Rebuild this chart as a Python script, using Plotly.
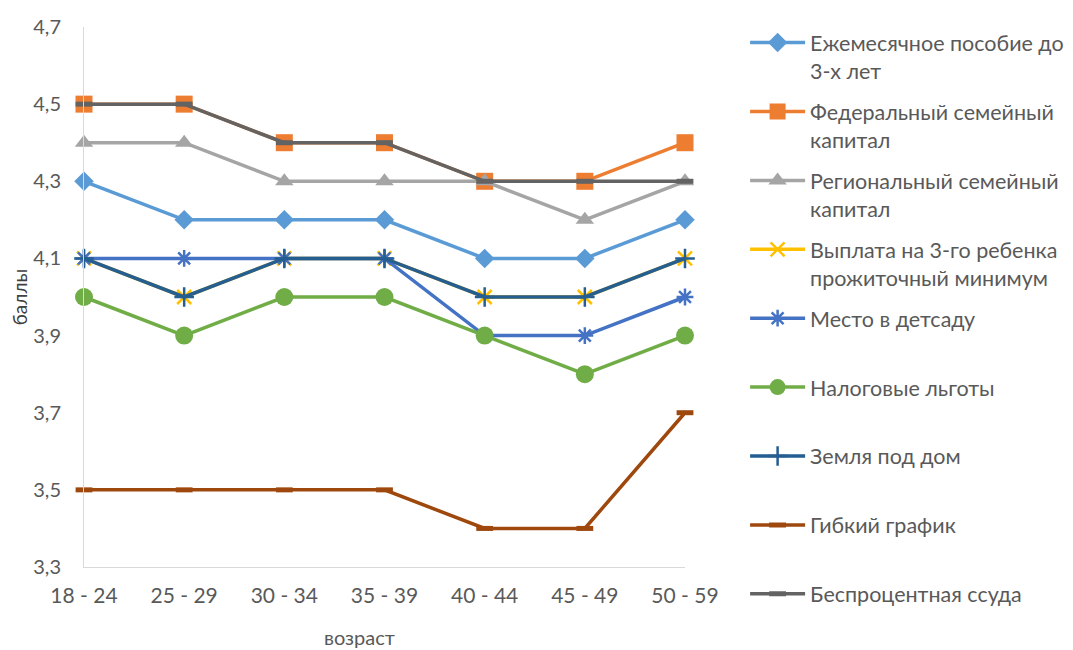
import plotly.graph_objects as go

ages = ["18 - 24", "25 - 29", "30 - 34", "35 - 39", "40 - 44", "45 - 49", "50 - 59"]

monthly_allowance = [4.3, 4.2, 4.2, 4.2, 4.1, 4.1, 4.2]
federal_capital = [4.5, 4.5, 4.4, 4.4, 4.3, 4.3, 4.4]
regional_capital = [4.4, 4.4, 4.3, 4.3, 4.3, 4.2, 4.3]
third_child_payment = [4.1, 4.0, 4.1, 4.1, 4.0, 4.0, 4.1]
kindergarten = [4.1, 4.1, 4.1, 4.1, 3.9, 3.9, 4.0]
tax_benefits = [4.0, 3.9, 4.0, 4.0, 3.9, 3.8, 3.9]
land = [4.1, 4.0, 4.1, 4.1, 4.0, 4.0, 4.1]
flexible = [3.5, 3.5, 3.5, 3.5, 3.4, 3.4, 3.7]
interest_free = [4.5, 4.5, 4.4, 4.4, 4.3, 4.3, 4.3]

series_names = [
    "Ежемесячное пособие до<br>3-х лет",
    "Федеральный семейный<br>капитал",
    "Региональный семейный<br>капитал",
    "Выплата на 3-го ребенка<br>прожиточный минимум",
    "Место в детсаду<br>\u00a0",
    "Налоговые льготы<br>\u00a0",
    "Земля под дом<br>\u00a0",
    "Гибкий график<br>\u00a0",
    "Беспроцентная ссуда<br>\u00a0",
]
series_values = [monthly_allowance, federal_capital, regional_capital, third_child_payment,
                 kindergarten, tax_benefits, land, flexible, interest_free]

styles = [
    dict(color="#5B9BD5", symbol="diamond", size=15, open=False),
    dict(color="#ED7D31", symbol="square", size=17, open=False),
    dict(color="#A5A5A5", symbol="triangle-up", size=16, open=False),
    dict(color="#FFC000", symbol="x-thin-open", size=14, open=True),
    dict(color="#4472C4", symbol="asterisk-open", size=14, open=True),
    dict(color="#70AD47", symbol="circle", size=18, open=False),
    dict(color="#255E91", symbol="cross-thin-open", size=14, open=True),
    dict(color="#9E480E", symbol="line-ew-open", size=12, open=True),
    dict(color="#636363", symbol="line-ew-open", size=12, open=True),
]

fig = go.Figure()
for i, (name, vals, st) in enumerate(zip(series_names, series_values, styles)):
    if st["open"]:
        marker = dict(symbol=st["symbol"], size=st["size"], color=st["color"],
                      line=dict(color=st["color"], width=2.5 if "line" not in st["symbol"] else 5))
    else:
        marker = dict(symbol=st["symbol"], size=st["size"], color=st["color"],
                      line=dict(width=0))
    fig.add_trace(go.Scatter(
        x=ages, y=vals, name=name, mode="lines+markers",
        line=dict(color=st["color"], width=3.5),
        marker=marker, cliponaxis=False, legendgroup="g%d" % i,
    ))

font_family = "Lato, 'Noto Sans', sans-serif"

fig.update_layout(
    width=1065, height=642,
    paper_bgcolor="white", plot_bgcolor="white",
    separators=", ",
    margin=dict(l=76, r=388, t=19, b=83, autoexpand=False),
    font=dict(family=font_family, color="#595959"),
    showlegend=True,
    legend=dict(
        x=1.1, y=1.009, xanchor="left", yanchor="top",
        font=dict(size=21.5, color="#595959", family=font_family),
        valign="top", traceorder="grouped", tracegroupgap=10,
        itemwidth=55, bgcolor="rgba(0,0,0,0)", maxheight=642,
    ),
    xaxis=dict(
        type="category", range=[0, 6], showgrid=False, showline=True,
        linecolor="#D9D9D9", linewidth=1, ticks="", zeroline=False,
        automargin=False, ticklabelstandoff=10,
        tickfont=dict(size=21, color="#595959"),
    ),
    yaxis=dict(
        range=[3.3, 4.7], tick0=3.3, dtick=0.2, tickformat=".1f",
        showgrid=False, showline=True, linecolor="#D9D9D9", linewidth=1,
        ticks="", zeroline=False, ticklabelstandoff=18, automargin=False,
        tickfont=dict(size=20, color="#595959"),
        title=dict(text="баллы", font=dict(size=19, color="#404040"), standoff=0),
    ),
    annotations=[dict(
        text="возраст", xref="paper", yref="paper", x=0.459, y=-0.129,
        xanchor="center", yanchor="middle", showarrow=False,
        font=dict(size=20, color="#595959"),
    )],
)

fig.write_html("out.html")
